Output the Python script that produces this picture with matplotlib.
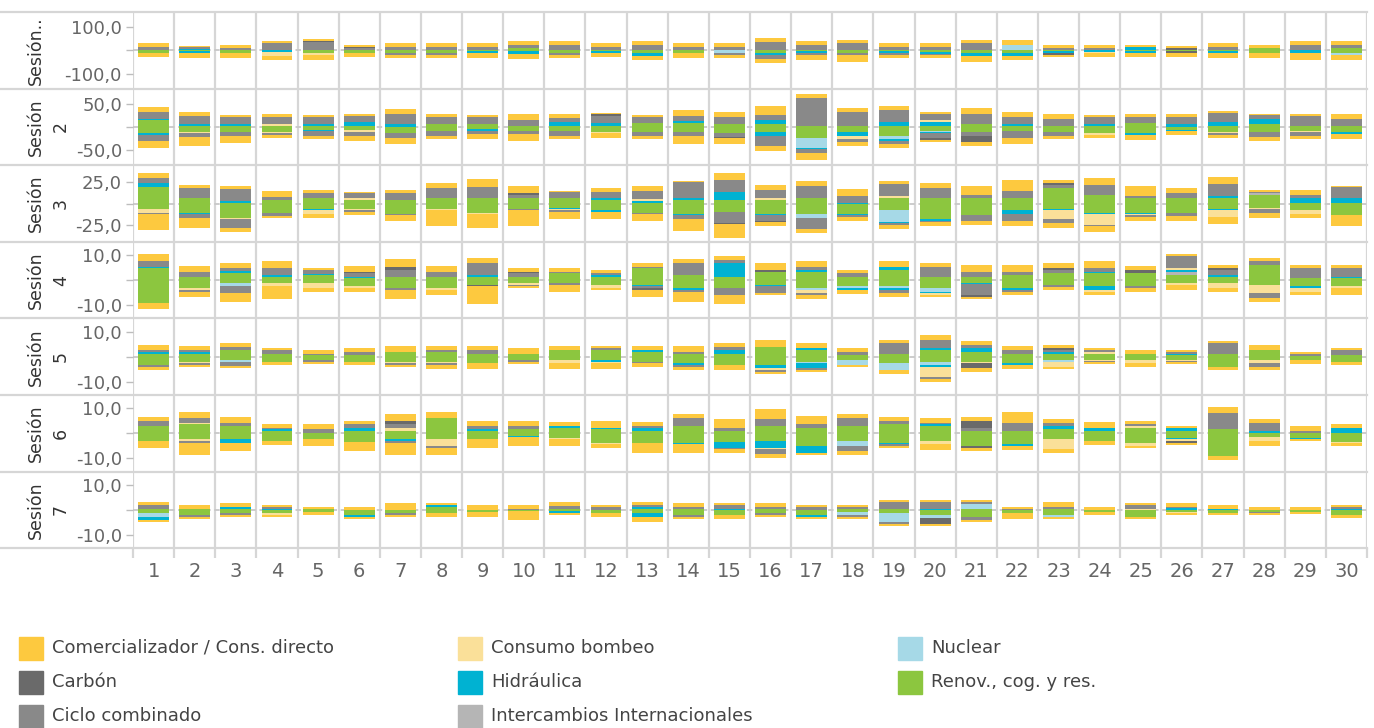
import matplotlib.pyplot as plt
from matplotlib.patches import Rectangle
from matplotlib.lines import Line2D

dias = list(range(1, 31))
orden = ["renov", "inter", "nuclear", "hidra", "bombeo", "ciclo", "carbon", "comer"]
nombres = {
    "comer": "Comercializador / Cons. directo",
    "carbon": "Carbón",
    "ciclo": "Ciclo combinado",
    "bombeo": "Consumo bombeo",
    "hidra": "Hidráulica",
    "inter": "Intercambios Internacionales",
    "nuclear": "Nuclear",
    "renov": "Renov., cog. y res.",
}
colores = {
    "comer": "#fdc93f",
    "carbon": "#6a6a6a",
    "ciclo": "#898989",
    "bombeo": "#fae099",
    "hidra": "#00b2d2",
    "inter": "#b5b5b5",
    "nuclear": "#a6d9e7",
    "renov": "#8cc63f",
}
orden_leyenda = ["comer", "carbon", "ciclo", "bombeo", "hidra", "inter", "nuclear", "renov"]

# ---- Sesión 1 (ventas > 0, compras < 0, en valor absoluto) ----
s1_venta = {
    "renov":   [0,0,0,0,0,0,0,0,0,8, 0,0,0,0,0,0,0,0,0,0, 0,0,0,0,0,0,0,8,0,8],
    "inter":   [0] * 30,
    "nuclear": [0,0,0,0,0,0,0,0,0,0, 0,0,0,0,0,0,0,0,0,0, 0,21,0,0,0,0,0,0,0,0],
    "hidra":   [0,4,0,3,0,0,0,0,0,0, 0,0,0,0,0,0,0,0,0,0, 0,0,0,0,13,0,0,0,0,0],
    "bombeo":  [0] * 30,
    "ciclo":   [13,8,8,27,34,8,13,13,13,13, 21,13,21,13,13,34,21,30,13,13, 30,0,8,8,0,0,13,0,21,13],
    "carbon":  [0,0,0,0,4,6,0,0,0,0, 0,0,0,0,0,0,0,0,0,0, 0,0,0,0,0,10,0,0,0,0],
    "comer":   [17,8,13,8,8,7,17,17,17,17, 17,17,17,17,17,17,17,13,17,17, 13,21,13,13,8,8,17,13,17,17],
}
s1_compra = {
    "renov":   [11,4,11,0,13,11,11,11,4,4, 13,4,13,11,0,11,4,13,2,6, 13,13,5,0,4,4,4,13,0,13],
    "inter":   [0] * 30,
    "nuclear": [0,0,0,0,0,0,0,0,0,0, 0,0,0,0,11,0,0,0,0,0, 0,0,0,0,0,0,0,0,0,8],
    "hidra":   [0,7,0,7,0,0,0,0,9,10, 0,9,11,0,0,8,9,0,10,8, 11,11,7,6,8,0,9,0,13,0],
    "bombeo":  [0,0,0,17,7,0,0,0,0,0, 0,0,0,0,0,0,0,0,0,0, 0,0,0,7,0,0,0,0,0,0],
    "ciclo":   [0,0,0,0,0,0,10,10,0,0, 8,0,0,0,8,17,7,8,8,7, 0,0,0,0,0,0,0,0,0,0],
    "carbon":  [0,0,0,0,0,0,0,0,0,0, 0,0,0,0,0,0,0,0,0,0, 0,0,8,0,0,8,0,0,0,0],
    "comer":   [18,21,21,17,23,18,13,13,21,21, 13,17,18,23,14,17,23,30,13,13, 27,18,8,17,17,17,21,21,30,21],
}

# ---- Sesión 2 ----
s2_venta = {
    "renov":   [14,3,3,3,3,3,0,7,7,3, 3,3,9,9,7,7,3,3,3,3, 7,3,3,3,9,0,3,7,3,3],
    "inter":   [0] * 30,
    "nuclear": [0] * 30,
    "hidra":   [4,4,4,0,4,7,7,0,0,0, 7,5,0,4,0,7,0,0,7,7, 0,4,0,4,0,7,7,11,0,0],
    "bombeo":  [0,0,0,4,0,0,0,0,0,0, 0,0,0,0,0,0,0,0,0,4, 0,0,0,0,0,0,0,0,0,0],
    "ciclo":   [15,17,15,15,15,13,22,15,15,11, 9,15,13,11,15,11,59,30,26,15, 22,15,15,15,13,15,20,7,20,15],
    "carbon":  [0,0,0,0,0,0,0,0,0,0, 0,4,0,0,0,0,0,0,0,0, 0,0,0,0,0,0,0,0,0,0],
    "comer":   [11,9,4,7,4,4,9,7,4,13, 9,4,4,13,11,20,9,7,9,4, 11,11,11,4,7,7,4,4,4,9],
}
s2_compra = {
    "renov":   [14,10,10,10,7,7,13,8,4,8, 8,10,10,10,14,10,25,10,19,8, 10,8,10,14,14,7,10,10,8,10],
    "inter":   [0] * 30,
    "nuclear": [0,0,0,0,0,0,0,0,0,0, 0,0,0,0,0,0,20,0,7,2, 0,0,0,0,0,0,0,0,0,0],
    "hidra":   [4,0,0,0,1,0,1,0,4,0, 0,0,0,0,0,9,3,9,4,4, 0,0,0,0,4,2,0,0,0,5],
    "bombeo":  [0,4,0,4,0,3,0,0,0,0, 0,4,0,0,0,0,0,7,0,0, 0,0,0,4,0,0,4,0,2,0],
    "ciclo":   [12,7,9,4,11,9,11,11,7,7, 11,0,9,9,7,22,8,7,7,11, 9,17,9,0,0,0,4,11,9,0],
    "carbon":  [0,0,0,0,0,0,0,0,0,0, 0,0,0,0,4,0,0,0,0,4, 13,0,0,0,0,0,0,0,0,0],
    "comer":   [15,20,15,7,7,11,11,7,11,15, 7,9,7,17,11,11,15,9,9,4, 9,11,7,7,11,9,7,9,7,11],
}

# ---- Sesión 3 ----
s3_venta = {
    "renov":   [19,6,1,4,6,4,4,6,6,6, 6,4,1,4,4,4,6,0,7,6, 6,6,18,10,7,6,7,10,1,1],
    "inter":   [0,0,0,0,0,0,0,0,0,0, 0,0,0,0,0,0,0,0,0,0, 0,0,0,0,0,0,0,2,0,0],
    "nuclear": [0] * 30,
    "hidra":   [5,1,2,0,0,0,0,1,1,0, 1,2,2,2,10,0,1,1,0,1, 0,0,0,0,0,1,2,0,5,6],
    "bombeo":  [0,0,0,0,0,2,0,0,0,0, 0,0,2,0,0,2,0,0,2,0, 0,1,0,0,0,0,0,0,0,0],
    "ciclo":   [6,11,14,4,6,6,8,11,12,4, 6,7,10,19,14,10,14,8,14,11, 4,8,4,12,2,5,14,2,4,12],
    "carbon":  [0,0,0,0,0,0,0,0,0,2, 0,0,0,0,0,0,0,0,0,0, 0,0,2,0,0,0,0,0,0,0],
    "comer":   [6,4,4,7,4,2,4,6,10,8, 2,5,5,2,8,6,6,8,4,6, 11,13,4,8,11,6,8,2,6,2],
}
s3_compra = {
    "renov":   [6,11,17,11,6,6,12,6,11,6, 5,8,11,12,10,12,12,12,8,18, 14,8,6,11,11,11,6,5,8,14],
    "inter":   [0] * 30,
    "nuclear": [0,0,0,0,0,0,0,0,0,0, 0,0,0,0,0,0,5,0,14,0, 0,0,1,0,0,0,0,0,0,0],
    "hidra":   [0,1,0,0,2,0,0,0,0,0, 1,2,0,2,0,2,0,2,1,2, 0,4,1,1,1,0,2,0,0,0],
    "bombeo":  [5,0,1,0,4,2,0,2,1,0, 2,0,0,0,0,0,0,0,0,0, 0,0,10,13,2,0,8,1,4,0],
    "ciclo":   [1,5,11,4,0,2,2,0,0,2, 2,0,1,4,13,6,13,2,2,2, 6,8,5,2,2,4,0,5,0,0],
    "carbon":  [0,0,0,0,0,0,0,0,0,0, 0,0,0,0,1,2,0,0,0,0, 0,1,0,0,0,0,0,0,0,0],
    "comer":   [19,12,4,2,5,4,6,18,17,18, 8,8,8,14,16,4,5,4,5,4, 5,5,6,6,4,5,8,6,5,12],
}

# ---- Sesión 4 ----
s4_venta = {
    "renov":   [4.7,1.1,2.7,1.1,1.9,0.7,1.1,1.1,1.1,1.1, 2.7,1.1,4.7,1.9,1.1,3.1,3.1,1.1,3.9,1.1, 1.1,1.9,2.7,2.7,2.7,1.9,1.1,5.9,0.7,0.7],
    "inter":   [0,0,0,0,0,0,0,0,0,0, 0,0,0,0,0,0,0,0,0,0, 0,0,0,0,0,1.2,0,0,0,0],
    "nuclear": [0] * 30,
    "hidra":   [0.4,0,0.8,0.8,0.4,0.4,0,0,0.8,0, 0,0.8,0,0,5.6,0,0.8,0,1.2,0, 0,0,0,0.4,0,0.8,0.8,0,0,0.4],
    "bombeo":  [0,0,0,0,0,0,0,0,0,0, 0,0,0,0,0,0,0,0,0,0, 0,0,0,0,0,0.8,0,0,0,0],
    "ciclo":   [2.4,2,1.2,2.8,1.6,1.6,2.8,2,4.8,1.6, 0.4,0.8,0.4,4.8,1.2,0,1.2,1.6,0,4, 2,1.2,1.2,1.6,0,4.8,2,1.6,4,3.6],
    "carbon":  [0,0,0,0,0,0.4,1.2,0,0,0.4, 0,0,0,0,0,0.8,0,0,0,0, 0,0,0.8,0,1.2,0,0.8,0,0,0],
    "comer":   [2.8,2.4,2,2.8,0.8,2.4,3.2,2.4,2,1.6, 1.6,1.2,1.6,1.6,1.6,2.8,2.4,1.2,2.4,1.6, 2.8,2.8,2,2.8,1.6,0.8,1.2,1.2,1.2,1.2],
}
s4_compra = {
    "renov":   [9.3,3.3,1.3,1.3,1.3,2.5,3.3,3.3,2.1,1.3, 1.3,2.1,2.1,3.3,3.3,2.1,3.3,2.5,2.5,3.3, 1.3,3.3,2.1,2.5,2.5,1.2,1.3,2.1,2.5,2.5],
    "inter":   [0] * 30,
    "nuclear": [0,0,1.2,0,0,0,0,0,0,0, 0,0,0,0,0,0,0.8,0.8,0.8,1.6, 0,0,0,0,0,0,0,0,0,0],
    "hidra":   [0,0,0,0,0,0,0,0,0,0, 0,0,0.4,0.8,0,0.4,0,0.8,0.8,0.4, 0.4,0.8,0,1.6,0,0,0,0,0.8,0],
    "bombeo":  [0,0.8,0,1.2,2,0.8,0,0.8,0,0.8, 0,1.2,0,0,0,0,1.2,0,0,0.8, 0,0,0,0.8,0,0.8,2,3.2,1.6,0.8],
    "ciclo":   [0,0.8,2.8,0,0,0,0.8,0,0,0.4, 0.8,0,0.8,0.8,2.8,2.8,0.8,0,1.2,0, 4.4,0.8,0.8,0,0.8,0,0,2,0,0],
    "carbon":  [0,0,0,0,0,0,0,0,0.4,0, 0,0,0.8,0,0,0,0,0,0,0, 0.8,0,0,0,0,0,0,0,0,0],
    "comer":   [2.4,2,3.6,5.2,1.6,1.6,3.6,2,7.2,0.8, 2.8,0.8,2.8,4,3.6,0.8,1.6,1.6,1.6,0.8, 0.8,1.2,1.2,1.2,1.6,2,1.6,1.6,1.2,2.8],
}

# ---- Sesión 5 ----
s5_venta = {
    "renov":   [1.1,1.1,2.7,1.1,0.7,0.7,1.9,1.9,1.1,1.1, 2.7,2.7,1.9,1.1,1.1,3.9,2.7,0.7,1.1,2.7, 1.9,1.1,1.1,1.1,1.1,0.7,1.1,2.7,0.4,0.7],
    "inter":   [0] * 30,
    "nuclear": [0] * 30,
    "hidra":   [0.8,0.8,0,0,0,0,0,0,0,0, 0,0,0.8,0,1.6,0,0.8,0,0,0.8, 1.6,0,0.8,0,0,0.4,0,0,0,0],
    "bombeo":  [0,0,0,0,0,0,0,0,0,0, 0,0,0,0,0,0,0,0,0,0, 0,0,0,0.8,0,0,0,0,0,0],
    "ciclo":   [0.8,0.8,1.2,1.6,0.4,1.2,0,0.8,1.6,0, 0,0.8,0,0.8,1.2,0,0,1.2,4.4,3.2, 1.2,1.6,0.8,0.8,0,0.8,4.4,0,0.8,2],
    "carbon":  [0,0,0,0,0,0,0,0,0,0, 0,0,0,0,0,0,0,0,0,0, 0,0,0.8,0,0,0,0,0,0,0],
    "comer":   [2,1.6,1.6,0.8,1.6,1.6,2.4,1.6,1.6,2.4, 1.6,0.8,1.6,2.4,1.6,2.8,2,1.6,1.2,2, 1.6,1.6,1.2,0.8,1.6,0.8,0.8,2,0.8,0.8],
}
s5_compra = {
    "renov":   [3.3,2.1,1.3,2.1,1.3,2.1,2.1,2.1,2.5,1.3, 1.3,1.3,2.1,2.5,3.3,3.3,2.1,1.3,2.5,2.1, 2.1,2.5,1.3,1.3,1.3,1.3,4.1,1.3,1.3,2.1],
    "inter":   [0] * 30,
    "nuclear": [0,0,0.8,0,0,0,0,0,0,0, 0,0,0,0,0,0,0.4,2,2.8,1.2, 0,0,0.8,0,0,0,0,0,0,0],
    "hidra":   [0,0,0,0,0,0,0,0,0,0, 0,0.8,0,0.8,0,1.2,2,0,0,0.8, 0,0.8,0,0,0,0,0,0,0,0],
    "bombeo":  [0,0.4,0,0,0,0,0.4,0.4,0,0, 1.2,0.4,0,0,0,0.8,0,0,0,4, 0.4,0,2,0.4,1.2,0.4,0,1.2,0,0],
    "ciclo":   [0.8,0.8,1.6,0,0.8,0,0.8,0.8,0,0.8, 0,0,0.4,0.8,0,0.8,0.8,0,0,0.8, 0,0,0,0.4,0,0.4,0,1.6,0,0],
    "carbon":  [0,0,0,0,0,0,0,0,0,0, 0,0,0,0,0,0,0,0,0,0, 2,0,0,0,0,0,0,0,0,0],
    "comer":   [1.2,0.8,0.8,1.2,0.8,1.2,0.8,1.6,2.4,0.8, 2.4,2.4,1.6,1.2,2,0.8,0.8,0.8,1.6,1.2, 1.6,1.6,0.8,0.8,1.6,0.8,1.2,1.2,1.6,1.2],
}

# ---- Sesión 6 ----
s6_venta = {
    "renov":   [3.1,3.9,3.1,1.1,0.3,1.1,1.1,6.3,1.1,1.9, 2.3,1.9,1.1,3.1,1.1,3.1,2.3,3.1,3.9,3.1, 1.1,1.1,1.9,1.1,2.3,1.1,1.9,0.3,0.3,0.3],
    "inter":   [0] * 30,
    "nuclear": [0] * 30,
    "hidra":   [0,0,0,0.8,0,1.2,0,0,0.8,0, 0.8,0.4,1.2,0,0,0,0,0,0,0.8, 0,0,1.2,1.2,0,1.2,0,0.8,0,2],
    "bombeo":  [0,0.4,0,0,0,0,1.2,0,0,0, 0,0,0,0,0,0,0,0,0,0, 0,0,0,0,0.8,0,0,0,0,0],
    "ciclo":   [2,2,1.2,0.4,1.6,1.6,1.6,0,1.2,1.2, 0,0,0.8,3.2,1.2,2.8,1.6,3.2,1.2,0.4, 1.2,3.2,1.2,0,0.8,0,6.4,3.2,0.8,0],
    "carbon":  [0,0,0,0,0,0,1.2,0,0,0, 0,0,0,0,0,0,0,0,0,0, 2.8,0,0,0,0,0,0,0,0,0],
    "comer":   [1.6,2.4,2.4,1.6,2,1.2,2.8,2.4,2,2, 1.6,2.8,1.6,1.6,3.6,4,3.2,1.6,1.6,2, 1.6,4.4,1.6,2.4,1.2,0.8,2.4,1.6,2,1.6],
}
s6_compra = {
    "renov":   [2.9,2.1,2.1,2.9,2.1,3.3,2.1,2.1,2.1,0.9, 1.7,3.7,3.7,3.7,3.3,2.9,4.9,2.9,3.7,2.9, 4.9,4.1,2.1,2.9,3.7,1.7,8.9,1.3,1.7,3.3],
    "inter":   [0] * 30,
    "nuclear": [0,0,0,0,0,0,0,0,0,0, 0,0,0,0,0,0,0,2,0,0, 0,0,0,0,0,0,0,0,0,0],
    "hidra":   [0,0,1.6,0,0,0,0.8,0,0,0.4, 0,0,0,0.4,2.4,2.8,2.8,0,0.4,0, 0,0.8,0,0,0,0.4,0,0,0.4,0],
    "bombeo":  [0,0.8,0,0,0,0,0,2.8,0,0, 0.4,0.4,0,0,0,0.4,0,0,0,1.2, 0,0,4,0,1.2,0.8,0,1.6,0,0.4],
    "ciclo":   [0,0.8,0,0,0,0,0.8,0.8,0,0, 0,0,0,0,0.4,2,0,2,0.8,0, 0,0,0,0,0,0,0,0,0,0],
    "carbon":  [0,0,0,0,0,0,0,0,0,0, 0,0,0,0,0,0,0,0,0,0, 0.8,0,0,0,0,0.8,0,0,0,0],
    "comer":   [2.8,4.8,3.2,1.6,2.8,3.6,4.8,2.8,3.6,3.6, 2.8,1.6,4,3.6,1.6,1.6,0.8,1.6,0.8,2.4, 1.2,1.6,1.6,1.6,0.8,0.8,1.6,2,0.8,1.2],
}

# ---- Sesión 7 ----
s7_venta = {
    "renov":   [0.5,0.4,0.4,0,0.4,0,0,1.2,0,0, 0.2,0,0.4,0.4,0,0.4,0,0.4,0.4,0, 0.4,0,0.4,0,0,0,0,0,0,0],
    "inter":   [0] * 30,
    "nuclear": [0,0,0,0,0,0,0,0,0,0, 0,0,0,0,0,0,0,0,0,0, 2,0,0,0,0,0,0,0,0,0],
    "hidra":   [0,0,0.9,0.4,0,0,0,0.9,0,0, 0,0,0.8,0,0.4,0,0,0,0,0.4, 0,0,0,0,0,0.6,0.4,0,0,0.4],
    "bombeo":  [0,0,0,0,0,0,0,0,0,0, 0,0,0,0,0,0,0,0,0,0, 0,0,0,0,0.4,0,0,0,0,0],
    "ciclo":   [1.6,0,0,0.9,0,0,0,0,0,0.4, 1.2,1.2,0.8,0.8,1.6,0.8,1.2,0.8,2.8,2.8, 0.8,0.4,0.8,0,1.6,0.6,0,0,0,0.8],
    "carbon":  [0] * 30,
    "comer":   [1.1,1.7,1.5,0.8,0.8,1.2,2.8,0.7,2.1,1.7, 1.6,0.8,1.2,1.6,0.8,1.6,0.8,0.8,0.8,0.8, 0.8,0.8,2,1.2,0.8,1.6,1.6,1.2,1.2,0.8],
}
s7_compra = {
    "renov":   [1.1,2,1.2,1.2,0.8,2,1.2,1.2,0.8,0.3, 0.6,1.2,1.2,2,2,1.2,2,0.8,1.2,2, 2.8,1.2,2,0.8,2.8,0.8,1.2,0.8,0.8,2],
    "inter":   [0] * 30,
    "nuclear": [1.7,0,0,0,0,0,0,0,0,0, 0,0,0,0,0,0,0,1.2,3.6,1.2, 0,0,0.8,0,0,0,0,0,0,0],
    "hidra":   [1.1,0,0,0,0,0.8,0,0,0,0, 0.6,0,1.6,0,0,0,0.8,0,0,0, 0,0,0,0,0,0,0,0,0,0],
    "bombeo":  [0,0,0,0.8,0,0,0,0,0,0, 0,0,0,0,0,0,0,0,0,0, 0,0,0,0,0,0.4,0,0,0,0],
    "ciclo":   [0,0.8,0.8,0,0,0,0.8,0,0,0, 0,0,0,0.8,0,0.8,0,0.8,0.8,0, 1.2,0,0,0,0,0,0,0.4,0,0],
    "carbon":  [0,0,0,0,0,0,0,0,0,0, 0,0,0,0,0,0,0,0,0,2.4, 0,0,0,0,0,0,0,0,0,0],
    "comer":   [0.9,0.8,0.8,0.8,1.2,0.8,0.8,1.6,2,3.6, 0.8,1.6,2,0.8,1.6,0.8,0.8,0.8,0.8,0.8, 0.8,2.4,0.8,1.2,0.8,0.8,0.8,0.8,0.8,1.2],
}

etiquetas_fila = ["Sesión..", "Sesión\n2", "Sesión\n3", "Sesión\n4", "Sesión\n5", "Sesión\n6", "Sesión\n7"]
limites = [163, 83, 45, 15.3, 15.3, 15.3, 15.3]
marcas = [100, 50, 25, 10, 10, 10, 10]
sesiones = [(s1_venta, s1_compra), (s2_venta, s2_compra), (s3_venta, s3_compra),
            (s4_venta, s4_compra), (s5_venta, s5_compra), (s6_venta, s6_compra),
            (s7_venta, s7_compra)]

W, H = 1374, 728
fig = plt.figure(figsize=(W / 100, H / 100), dpi=100)

x0, x1 = 133, 1367
top, alto = 12, 76.6
gris_linea = "#d6d6d6"
x = list(range(30))


def apilar(ax, datos, signo):
    base = [0.0] * 30
    for clave in orden:
        vals = [signo * v for v in datos[clave]]
        ax.bar(x, vals, 0.75, bottom=base, color=colores[clave], linewidth=0, zorder=2)
        base = [b + v for b, v in zip(base, vals)]


for i, (venta, compra) in enumerate(sesiones):
    y_top = top + i * alto
    ax = fig.add_axes([x0 / W, 1 - (y_top + alto) / H, (x1 - x0) / W, alto / H])
    apilar(ax, venta, 1)
    apilar(ax, compra, -1)
    ax.axhline(0, color="#c8c8c8", lw=1.3, ls=(0, (3, 2)), zorder=1)
    for k in range(31):
        ax.axvline(k - 0.5, color=gris_linea, lw=1.6, zorder=0)
    lim = limites[i]
    m = marcas[i]
    ax.set_xlim(-0.5, 29.5)
    ax.set_ylim(-lim, lim)
    ax.set_yticks([m, 0, -m])
    ax.set_yticklabels([f"{m},0", "", f"-{m},0"], fontsize=13, color="#666666")
    ax.tick_params(axis="y", length=5, color="#bdbdbd", width=1, pad=3)
    for s in ax.spines.values():
        s.set_visible(False)
    if i == len(sesiones) - 1:
        ax.set_xticks(x)
        ax.set_xticklabels([str(d) for d in dias], fontsize=14, color="#666666")
        ax.set_xticks([k - 0.5 for k in range(31)], minor=True)
        ax.tick_params(axis="x", which="major", length=0, pad=10)
        ax.tick_params(axis="x", which="minor", length=7, color=gris_linea, width=1.6)
    else:
        ax.set_xticks([])

    # etiqueta de fila
    yc = 1 - (y_top + alto / 2) / H
    partes = etiquetas_fila[i].split("\n")
    fig.text(36 / W, yc, partes[0], rotation=90, ha="center", va="center",
             fontsize=12.5, color="#333333")
    if len(partes) > 1:
        fig.text(61 / W, yc, partes[1], rotation=90, ha="center", va="center",
                 fontsize=12.5, color="#333333")

# separadores de fila
for i in range(len(sesiones) + 1):
    yy = 1 - (top + i * alto) / H
    fig.add_artist(Line2D([0, x1 / W], [yy, yy], color=gris_linea, lw=1.6))

# leyenda
col_x = [19, 458, 898]
fila_y = [648, 682, 716]
for n, clave in enumerate(orden_leyenda):
    cx = col_x[n // 3]
    cy = fila_y[n % 3]
    fig.add_artist(Rectangle((cx / W, 1 - (cy + 11.5) / H), 24 / W, 23 / H,
                             color=colores[clave], transform=fig.transFigure))
    fig.text((cx + 33) / W, 1 - cy / H, nombres[clave], ha="left", va="center",
             fontsize=13, color="#444444")

fig.savefig("out.png", dpi=100)
